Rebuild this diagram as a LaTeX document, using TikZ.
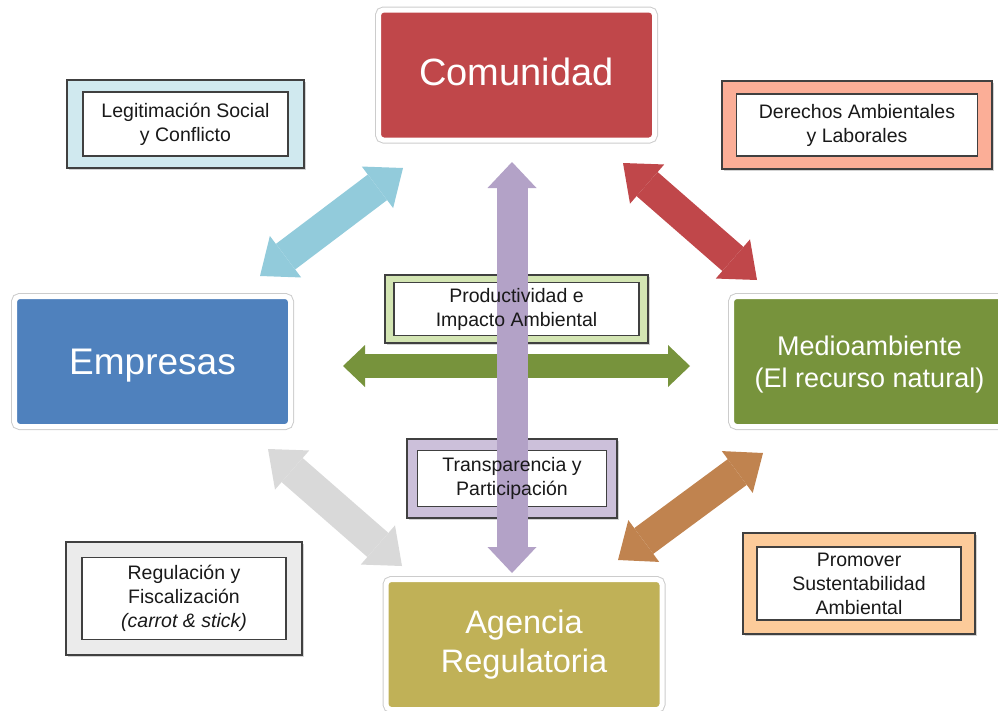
\documentclass[tikz,border=0pt]{standalone}
\usepackage{fontspec}
\setmainfont{Liberation Sans}
\usepackage{tikz}
\usetikzlibrary{arrows.meta,shadows}

\definecolor{comred}{HTML}{C0474A}
\definecolor{empblue}{HTML}{4F81BD}
\definecolor{medgreen}{HTML}{77933C}
\definecolor{agrolive}{HTML}{C0B157}
\definecolor{arrblue}{HTML}{92CBDB}
\definecolor{arrpurple}{HTML}{B3A2C7}
\definecolor{arrgray}{HTML}{D9D9D9}
\definecolor{arrorange}{HTML}{C0834F}
\definecolor{fillblue}{HTML}{D0E9EF}
\definecolor{fillsalmon}{HTML}{FBAE97}
\definecolor{fillgreen}{HTML}{D3E5B3}
\definecolor{fillpurple}{HTML}{CCC0DA}
\definecolor{fillgray}{HTML}{EBEBEB}
\definecolor{fillorange}{HTML}{FCCB9A}

\begin{document}
\begin{tikzpicture}[x=1pt, y=-1pt,
        agent/.style={rectangle, rounded corners=5pt, draw=white, line width=5pt,
            preaction={draw=black!20, line width=7pt},
            minimum width=276pt, minimum height=130pt, align=center, text=white},
        lblframe/.style={rectangle, draw=black!75, line width=1.2pt,
            drop shadow={shadow xshift=1.5pt, shadow yshift=-1.5pt, opacity=0.35}},
        inbox/.style={rectangle, draw=black!75, line width=1.2pt, fill=white},
        lbl/.style={align=center, text=black!90, font=\fontsize{19.5}{24}\selectfont},
        diagarr/.style={line width=32pt, >={Triangle[length=32pt, width=52pt, line width=0pt]}, <->},
        vertarr/.style={line width=31pt, >={Triangle[length=26pt, width=49pt, line width=0pt]}, <->},
        horzarr/.style={line width=24pt, >={Triangle[length=22pt, width=42pt, line width=0pt]}, <->}
    ]
        \useasboundingbox (0,0) rectangle (998,710);

        % Actors
        \node[agent, fill=comred, font=\fontsize{38}{44}\selectfont, text depth=6pt] (com) at (516.5,75) {Comunidad};
        \node[agent, fill=empblue, font=\fontsize{37}{44}\selectfont, text depth=0pt] (emp) at (152.5,361.5) {Empresas};
        \node[agent, fill=medgreen, font=\fontsize{27}{31.5}\selectfont, text depth=0pt] (med) at (869.5,361.5) {Medioambiente\\(El recurso natural)};
        \node[agent, fill=agrolive, font=\fontsize{32.5}{39}\selectfont] (agr) at (524,644.5) {Agencia\\Regulatoria};

        % Label frames
        \node[lblframe, fill=fillblue, minimum width=237pt, minimum height=88pt] (legitF) at (185.5,124) {};
        \node[inbox, minimum width=205pt, minimum height=64pt] (legitB) at (legitF) {};
        \node[lblframe, fill=fillsalmon, minimum width=270pt, minimum height=88pt] (derF) at (857,125) {};
        \node[inbox, minimum width=241pt, minimum height=62pt] (derB) at (derF) {};
        \node[lblframe, fill=fillgreen, minimum width=263pt, minimum height=68pt] (prodF) at (516.5,309) {};
        \node[inbox, minimum width=245pt, minimum height=53pt] (prodB) at (prodF) {};
        \node[lblframe, fill=fillpurple, minimum width=210pt, minimum height=79pt] (transF) at (512,478.5) {};
        \node[inbox, minimum width=189pt, minimum height=56pt] (transB) at (transF) {};
        \node[lblframe, fill=fillgray, minimum width=236pt, minimum height=113pt] (regF) at (184,598.5) {};
        \node[inbox, minimum width=204pt, minimum height=82pt] (regB) at (regF) {};
        \node[lblframe, fill=fillorange, minimum width=232pt, minimum height=101pt] (promF) at (859,583.5) {};
        \node[inbox, minimum width=204pt, minimum height=73pt] (promB) at (promF) {};

        % Arrow ends
        \coordinate (ecA) at (260,276);
        \coordinate (ecB) at (403,168);
        \coordinate (cmA) at (623,163);
        \coordinate (cmB) at (757,280);
        \coordinate (eaA) at (268,449);
        \coordinate (eaB) at (402,566);
        \coordinate (maA) at (763,453);
        \coordinate (maB) at (618,560);
        \coordinate (emA) at (343,366);
        \coordinate (emB) at (690,366);
        \coordinate (caA) at (512,162);
        \coordinate (caB) at (512,573);

        % Arrows
        \draw[diagarr, arrblue] (ecA) -- (ecB);
        \draw[diagarr, comred] (cmA) -- (cmB);
        \draw[diagarr, arrgray] (eaA) -- (eaB);
        \draw[diagarr, arrorange] (maA) -- (maB);
        \draw[horzarr, medgreen] (emA) -- (emB);
        \draw[vertarr, arrpurple] (caA) -- (caB);

        % Label texts
        \node[lbl] (legit) at (legitB) {Legitimación Social\\y Conflicto};
        \node[lbl] (der) at (derB) {Derechos Ambientales\\y Laborales};
        \node[lbl] (prod) at (prodB) {Productividad e\\Impacto Ambiental};
        \node[lbl] (trans) at (transB) {Transparencia y\\Participación};
        \node[lbl] (reg) at (regB) {Regulación y\\Fiscalización\\\textit{(carrot \& stick)}};
        \node[lbl] (prom) at (promB) {Promover\\Sustentabilidad\\Ambiental};
    \end{tikzpicture}
\end{document}
